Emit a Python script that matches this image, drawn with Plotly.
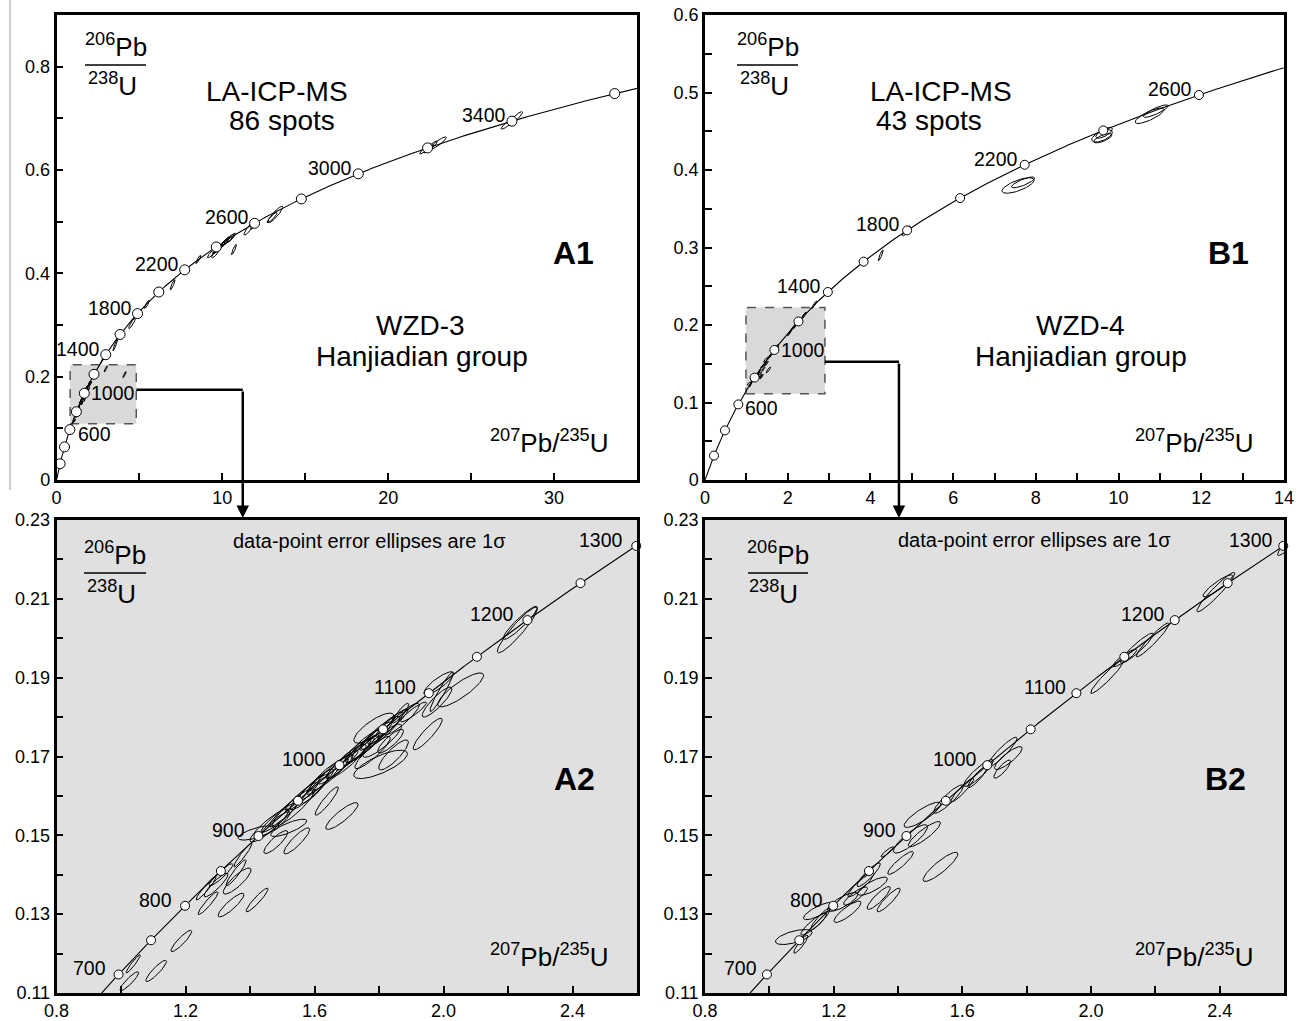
import numpy as np
import plotly.graph_objects as go

W, H = 1303, 1021
FONT = "Liberation Sans, Arial, sans-serif"

# decay constants (per Ma)
LAMBDA_238 = 1.55125e-4
LAMBDA_235 = 9.8485e-4

# ---------------- Sample WZD-3 (panels A1/A2) ----------------
# 207Pb/235U, 1 sigma, 206Pb/238U, 1 sigma, error correlation
a_x = [1.038, 1.026, 1.109, 1.187, 1.341, 1.422, 1.270, 1.264, 1.295, 1.360, 1.357, 1.378, 1.310,
       1.419, 1.480, 1.545, 1.520, 1.638, 1.685,
       1.784, 1.805, 1.845, 1.867, 1.951, 1.980, 2.053, 1.985, 1.907, 1.994, 2.229, 2.238, 1.836,
       1.460, 1.490, 1.510, 1.535, 1.560, 1.585, 1.605, 1.625, 1.645, 1.665, 1.685, 1.700, 1.720,
       1.735, 1.755, 1.770, 1.790, 1.805, 1.820, 1.840, 1.810, 1.780, 1.870, 1.600, 1.750, 1.480,
       2.97, 4.10, 3.55, 4.55, 5.45, 7.00, 8.55, 9.40, 9.70, 9.90, 10.05, 10.20, 10.40, 10.55,
       9.60, 10.70, 11.65, 11.90, 13.20, 13.00, 22.25, 22.60, 23.00, 22.45, 27.20, 27.70, 2.75, 2.90]
a_sx = [0.022, 0.029, 0.032, 0.032, 0.040, 0.034, 0.031, 0.031, 0.037, 0.043, 0.031, 0.028, 0.037,
        0.056, 0.037, 0.040, 0.056, 0.036, 0.050,
        0.062, 0.083, 0.046, 0.025, 0.045, 0.046, 0.071, 0.046, 0.040, 0.036, 0.062, 0.053, 0.040,
        0.060, 0.055, 0.050, 0.065, 0.050, 0.060, 0.055, 0.050, 0.060, 0.055, 0.050, 0.060, 0.055,
        0.050, 0.060, 0.055, 0.050, 0.060, 0.055, 0.050, 0.060, 0.055, 0.055, 0.040, 0.050, 0.045,
        0.10, 0.10, 0.15, 0.20, 0.15, 0.15, 0.15, 0.30, 0.30, 0.25, 0.30, 0.25, 0.30, 0.25,
        0.25, 0.15, 0.35, 0.20, 0.45, 0.30, 0.35, 0.35, 0.50, 0.30, 0.40, 0.40, 0.08, 0.08]
a_y = [0.1174, 0.1130, 0.1156, 0.1232, 0.1323, 0.1336, 0.1328, 0.1366, 0.1374, 0.1384, 0.1405, 0.1450, 0.1400,
       0.1506, 0.1483, 0.1486, 0.1519, 0.1587, 0.1549,
       0.1772, 0.1680, 0.1704, 0.1810, 0.1757, 0.1838, 0.1869, 0.1886, 0.1813, 0.1864, 0.2021, 0.2039, 0.1739,
       0.1525, 0.1545, 0.1560, 0.1570, 0.1598, 0.1610, 0.1628, 0.1640, 0.1655, 0.1668, 0.1680, 0.1688, 0.1705,
       0.1712, 0.1728, 0.1735, 0.1752, 0.1760, 0.1772, 0.1785, 0.1740, 0.1710, 0.1795, 0.1615, 0.1720, 0.1530,
       0.215, 0.204, 0.262, 0.303, 0.340, 0.378, 0.427, 0.440, 0.447, 0.452, 0.457, 0.462, 0.466, 0.469,
       0.440, 0.446, 0.488, 0.495, 0.514, 0.508, 0.641, 0.646, 0.652, 0.641, 0.689, 0.701, 0.232, 0.238]
a_sy = [0.0023, 0.0024, 0.0027, 0.0027, 0.0030, 0.0030, 0.0029, 0.0030, 0.0030, 0.0033, 0.0033, 0.0030, 0.0028,
        0.0018, 0.0029, 0.0033, 0.0022, 0.0036, 0.0034,
        0.0038, 0.0036, 0.0038, 0.0025, 0.0040, 0.0038, 0.0043, 0.0029, 0.0025, 0.0050, 0.0058, 0.0042, 0.0030,
        0.0042, 0.0037, 0.0038, 0.0048, 0.0036, 0.0045, 0.0040, 0.0036, 0.0042, 0.0038, 0.0036, 0.0043, 0.0040,
        0.0036, 0.0043, 0.0041, 0.0036, 0.0042, 0.0040, 0.0036, 0.0042, 0.0041, 0.0040, 0.0033, 0.0035, 0.0030,
        0.006, 0.006, 0.012, 0.010, 0.008, 0.010, 0.008, 0.010, 0.010, 0.009, 0.010, 0.009, 0.010, 0.009,
        0.010, 0.010, 0.014, 0.010, 0.016, 0.010, 0.010, 0.010, 0.012, 0.008, 0.010, 0.012, 0.006, 0.006]
a_rho = [0.95, 0.90, 0.90, 0.90, 0.88, 0.93, 0.93, 0.95, 0.90, 0.85, 0.93, 0.95, 0.92,
         0.70, 0.85, 0.88, 0.80, 0.92, 0.87,
         0.80, 0.75, 0.85, 0.90, 0.90, 0.88, 0.85, 0.85, 0.92, 0.95, 0.93, 0.93, 0.85,
         0.90, 0.92, 0.93, 0.90, 0.93, 0.92, 0.93, 0.92, 0.90, 0.92, 0.93, 0.90, 0.92,
         0.93, 0.90, 0.92, 0.93, 0.90, 0.92, 0.93, 0.88, 0.90, 0.90, 0.90, 0.90, 0.90,
         0.90, 0.90, 0.95, 0.90, 0.90, 0.90, 0.90, 0.90, 0.90, 0.90, 0.90, 0.90, 0.90, 0.90,
         0.85, 0.90, 0.90, 0.90, 0.90, 0.90, 0.90, 0.90, 0.90, 0.90, 0.90, 0.90, 0.95, 0.95]

# ---------------- Sample WZD-4 (panels B1/B2) ----------------
b_x = [1.076, 1.098, 1.138, 1.153, 1.159, 1.228, 1.243, 1.268, 1.284, 1.321, 1.340, 1.371, 1.408,
       1.482, 1.532, 1.367, 1.309, 1.439, 1.476, 1.557, 1.650, 1.647, 1.724, 1.724, 1.743,
       2.050, 2.143, 2.192, 2.388, 2.394, 2.105, 1.600,
       2.64, 4.25, 4.87, 4.90, 7.57, 7.69, 9.60, 9.65, 9.62, 10.75, 10.90]
b_sx = [0.057, 0.022, 0.040, 0.047, 0.031, 0.047, 0.042, 0.037, 0.040, 0.046, 0.036, 0.036, 0.040,
        0.050, 0.054, 0.020, 0.036, 0.053, 0.057, 0.046, 0.046, 0.030, 0.026, 0.046, 0.043,
        0.051, 0.051, 0.051, 0.059, 0.046, 0.037, 0.035,
        0.06, 0.06, 0.10, 0.06, 0.39, 0.28, 0.25, 0.20, 0.22, 0.35, 0.30]
b_y = [0.1242, 0.1224, 0.1275, 0.1308, 0.1288, 0.1331, 0.1306, 0.1346, 0.1374, 0.1371, 0.1341, 0.1336, 0.1430,
       0.1503, 0.1420, 0.1458, 0.1400, 0.1491, 0.1552, 0.1592, 0.1658, 0.1648, 0.1668, 0.1711, 0.1696,
       0.1902, 0.1975, 0.1996, 0.2117, 0.2133, 0.1950, 0.1615,
       0.226, 0.290, 0.321, 0.323, 0.380, 0.384, 0.444, 0.448, 0.441, 0.470, 0.476]
b_sy = [0.0019, 0.0023, 0.0028, 0.0022, 0.0028, 0.0024, 0.0027, 0.0023, 0.0030, 0.0023, 0.0029, 0.0030, 0.0029,
        0.0032, 0.0037, 0.0013, 0.0030, 0.0036, 0.0032, 0.0036, 0.0034, 0.0027, 0.0023, 0.0038, 0.0029,
        0.0042, 0.0038, 0.0043, 0.0050, 0.0028, 0.0022, 0.0030,
        0.005, 0.007, 0.006, 0.005, 0.010, 0.007, 0.008, 0.007, 0.006, 0.010, 0.008]
b_rho = [0.60, 0.90, 0.90, 0.80, 0.92, 0.80, 0.85, 0.85, 0.90, 0.80, 0.88, 0.90, 0.90,
         0.88, 0.88, 0.90, 0.90, 0.85, 0.85, 0.90, 0.90, 0.90, 0.85, 0.92, 0.85,
         0.95, 0.93, 0.95, 0.95, 0.90, 0.90, 0.93,
         0.95, 0.90, 0.85, 0.90, 0.70, 0.80, 0.60, 0.70, 0.70, 0.80, 0.85]

# ---------------- concordia age marks (Ma) ----------------
A1_marker_ages = [200, 400, 600, 800, 1000, 1200, 1400, 1600, 1800, 2000, 2200, 2400, 2600, 2800, 3000, 3200, 3400, 3600]
A1_label_ages = [600, 1000, 1400, 1800, 2200, 2600, 3000, 3400]
B1_marker_ages = [200, 400, 600, 800, 1000, 1200, 1400, 1600, 1800, 2000, 2200, 2400, 2600]
B1_label_ages = [600, 1000, 1400, 1800, 2200, 2600]
Z_marker_ages = [700, 750, 800, 850, 900, 950, 1000, 1050, 1100, 1150, 1200, 1250, 1300]
Z_label_ages = [700, 800, 900, 1000, 1100, 1200, 1300]

# tick labels
A1_xticks = [0, 5, 10, 15, 20, 25, 30]
A1_xtext = ["0", " ", "10", " ", "20", " ", "30"]
A1_yticks = [0, 0.1, 0.2, 0.3, 0.4, 0.5, 0.6, 0.7, 0.8]
A1_ytext = ["0", " ", "0.2", " ", "0.4", " ", "0.6", " ", "0.8"]
B1_xticks = [0, 1, 2, 3, 4, 5, 6, 7, 8, 9, 10, 11, 12, 13, 14]
B1_xtext = ["0", " ", "2", " ", "4", " ", "6", " ", "8", " ", "10", " ", "12", " ", "14"]
B1_yticks = [0, 0.05, 0.1, 0.15, 0.2, 0.25, 0.3, 0.35, 0.4, 0.45, 0.5, 0.55, 0.6]
B1_ytext = ["0", " ", "0.1", " ", "0.2", " ", "0.3", " ", "0.4", " ", "0.5", " ", "0.6"]
Z_xticks = [0.8, 1.0, 1.2, 1.4, 1.6, 1.8, 2.0, 2.2, 2.4, 2.6]
Z_xtext = ["0.8", " ", "1.2", " ", "1.6", " ", "2.0", " ", "2.4", " "]
Z_yticks = [0.11, 0.12, 0.13, 0.14, 0.15, 0.16, 0.17, 0.18, 0.19, 0.20, 0.21, 0.22, 0.23]
Z_ytext = ["0.11", " ", "0.13", " ", "0.15", " ", "0.17", " ", "0.19", " ", "0.21", " ", "0.23"]


def concordia(t):
    t = np.asarray(t, dtype=float)
    return np.exp(LAMBDA_235 * t) - 1, np.exp(LAMBDA_238 * t) - 1


def ellipses(xs, sxs, ys, sys, rhos, n=80):
    th = np.linspace(0, 2 * np.pi, n)
    X, Y = [], []
    for x, sx, y, sy, r in zip(xs, sxs, ys, sys, rhos):
        X += list(x + sx * np.cos(th)) + [None]
        Y += list(y + sy * (r * np.cos(th) + np.sqrt(1 - r * r) * np.sin(th))) + [None]
    return X, Y


fig = go.Figure()

panels = [
    ("x", "y", (a_x, a_sx, a_y, a_sy, a_rho), (0, 3800), A1_marker_ages, 10),
    ("x2", "y2", (b_x, b_sx, b_y, b_sy, b_rho), (0, 2800), B1_marker_ages, 9),
    ("x3", "y3", (a_x, a_sx, a_y, a_sy, a_rho), (550, 1400), Z_marker_ages, 9),
    ("x4", "y4", (b_x, b_sx, b_y, b_sy, b_rho), (550, 1400), Z_marker_ages, 9),
]

for xa, ya, dat, span, mages, msize in panels:
    ex, ey = ellipses(*dat)
    fig.add_trace(go.Scatter(x=ex, y=ey, mode="lines", xaxis=xa, yaxis=ya,
                             line=dict(color="black", width=1), hoverinfo="skip"))
    cx, cy = concordia(np.linspace(span[0], span[1], 600))
    fig.add_trace(go.Scatter(x=cx, y=cy, mode="lines", xaxis=xa, yaxis=ya,
                             line=dict(color="black", width=1.1), hoverinfo="skip"))
    mx, my = concordia(mages)
    fig.add_trace(go.Scatter(x=mx, y=my, mode="markers", xaxis=xa, yaxis=ya, cliponaxis=False,
                             marker=dict(symbol="circle", size=msize, color="white",
                                         line=dict(color="black", width=1))))


def dom_x(p0, p1):
    return [p0 / W, p1 / W]


def dom_y(p_top, p_bot):
    return [1 - p_bot / H, 1 - p_top / H]


def axis(domain, rng, tv, tt, anchor):
    return dict(domain=domain, range=rng, tickmode="array", tickvals=tv, ticktext=tt,
                ticks="inside", ticklen=7, tickwidth=1.5, tickcolor="black",
                showline=True, linewidth=2.5, linecolor="black", mirror=True,
                showgrid=False, zeroline=False, anchor=anchor, automargin=False,
                tickfont=dict(family=FONT, size=18, color="black"))


LX_A, RX_A = 56.5, 637
LX_B, RX_B = 705, 1284
TOP1, BOT1 = 15, 480
TOP2, BOT2 = 520, 993

fig.update_layout(
    width=W, height=H, margin=dict(l=0, r=0, t=0, b=0, pad=0, autoexpand=False),
    paper_bgcolor="white", plot_bgcolor="white", showlegend=False,
    xaxis=axis(dom_x(LX_A, RX_A), [0, 35], A1_xticks, A1_xtext, "y"),
    yaxis=axis(dom_y(TOP1, BOT1), [0, 0.9], A1_yticks, A1_ytext, "x"),
    xaxis2=axis(dom_x(LX_B, RX_B), [0, 14], B1_xticks, B1_xtext, "y2"),
    yaxis2=axis(dom_y(TOP1, BOT1), [0, 0.6], B1_yticks, B1_ytext, "x2"),
    xaxis3=axis(dom_x(LX_A, RX_A), [0.8, 2.6], Z_xticks, Z_xtext, "y3"),
    yaxis3=axis(dom_y(TOP2, BOT2), [0.11, 0.23], Z_yticks, Z_ytext, "x3"),
    xaxis4=axis(dom_x(LX_B, RX_B), [0.8, 2.6], Z_xticks, Z_xtext, "y4"),
    yaxis4=axis(dom_y(TOP2, BOT2), [0.11, 0.23], Z_yticks, Z_ytext, "x4"),
)

shapes = []
for xr, yr in (("x3", "y3"), ("x4", "y4")):
    shapes.append(dict(type="rect", xref=xr + " domain", yref=yr + " domain", x0=0, x1=1, y0=0, y1=1,
                       fillcolor="#e0e0e0", line=dict(width=0), layer="below"))
shapes.append(dict(type="rect", xref="x", yref="y", x0=0.82, x1=4.81, y0=0.1087, y1=0.2233,
                   fillcolor="#d9d9d9", line=dict(color="#555555", width=1.5, dash="dash"), layer="below"))
shapes.append(dict(type="rect", xref="x2", yref="y2", x0=0.99, x1=2.90, y0=0.1113, y1=0.2225,
                   fillcolor="#d9d9d9", line=dict(color="#555555", width=1.5, dash="dash"), layer="below"))
shapes.append(dict(type="line", xref="x", yref="y", x0=4.81, x1=11.23, y0=0.1748, y1=0.1748,
                   line=dict(color="black", width=2.5)))
shapes.append(dict(type="line", xref="x2", yref="y2", x0=2.90, x1=4.69, y0=0.1527, y1=0.1527,
                   line=dict(color="black", width=2.5)))
for x0, x1, yb in ((85, 146, 65), (737, 798, 65), (84, 146, 573), (748, 808, 573)):
    shapes.append(dict(type="line", xref="paper", yref="paper", x0=x0 / W, x1=x1 / W,
                       y0=1 - yb / H, y1=1 - yb / H, line=dict(color="black", width=1.5)))
shapes.append(dict(type="line", xref="paper", yref="paper", x0=10 / W, x1=10 / W, y0=1, y1=1 - 490 / H,
                   line=dict(color="#9a9a9a", width=1)))
fig.update_layout(shapes=shapes)

ann = []


def txt(x, y, s, size, xanchor="center", yanchor="middle"):
    ann.append(dict(x=x / W, y=1 - y / H, xref="paper", yref="paper", text=s, showarrow=False,
                    xanchor=xanchor, yanchor=yanchor,
                    font=dict(family=FONT, size=size, color="black")))


ann.append(dict(x=11.23, y=1 - 518 / H, xref="x", yref="paper", text="", showarrow=True,
                ax=0, ay=-128, arrowhead=2, arrowsize=1, arrowwidth=2.5, arrowcolor="black"))
ann.append(dict(x=4.69, y=1 - 518 / H, xref="x2", yref="paper", text="", showarrow=True,
                ax=0, ay=-156, arrowhead=2, arrowsize=1, arrowwidth=2.5, arrowcolor="black"))

txt(277, 92, "LA-ICP-MS", 28)
txt(282, 121, "86 spots", 28)
txt(573, 253, "<b>A1</b>", 32)
txt(420, 325, "WZD-3", 28)
txt(422, 356, "Hanjiadian group", 28)
txt(941, 92, "LA-ICP-MS", 28)
txt(929, 121, "43 spots", 28)
txt(1228, 253, "<b>B1</b>", 32)
txt(1080, 325, "WZD-4", 28)
txt(1081, 356, "Hanjiadian group", 28)
txt(369, 541, "data-point error ellipses are 1σ", 20)
txt(1034, 540, "data-point error ellipses are 1σ", 20)
txt(574, 779, "<b>A2</b>", 32)
txt(1225, 779, "<b>B2</b>", 32)

for cx, ybar in ((116, 65), (768, 65), (115, 573), (778, 573)):
    txt(cx, ybar - 1, "<sup>206</sup>Pb", 26, yanchor="bottom")
    txt(cx - 4, ybar + 1, "<sup>238</sup>U", 26, yanchor="top")
for rx, yc in ((611, 441), (1256, 441), (611, 955), (1256, 955)):
    txt(rx, yc, "<sup>207</sup>Pb/<sup>235</sup>U", 26, xanchor="right")

label_side = {
    "x": {600: ("left", 6, -4), 1000: ("left", 5, 0)},
    "x2": {600: ("left", 5, -4), 1000: ("left", 5, 0)},
}
default_shift = {"x": ("right", -4, 6), "x2": ("right", -5, 6),
                 "x3": ("right", -11, 6), "x4": ("right", -8, 6)}
for xa, ya, ages in (("x", "y", A1_label_ages), ("x2", "y2", B1_label_ages),
                     ("x3", "y3", Z_label_ages), ("x4", "y4", Z_label_ages)):
    lx, ly = concordia(ages)
    for age, x, y in zip(ages, lx, ly):
        side, xs, ys = label_side.get(xa, {}).get(age, default_shift[xa])
        ann.append(dict(x=float(x), y=float(y), xref=xa, yref=ya, text=str(age), showarrow=False,
                        xanchor=side, yanchor="middle", xshift=xs, yshift=ys,
                        font=dict(family=FONT, size=19.5, color="black")))

fig.update_layout(annotations=ann)
fig.write_html("out.html", config={"displayModeBar": False},
               post_script="document.body.style.margin='0px';document.body.style.overflow='hidden';")
